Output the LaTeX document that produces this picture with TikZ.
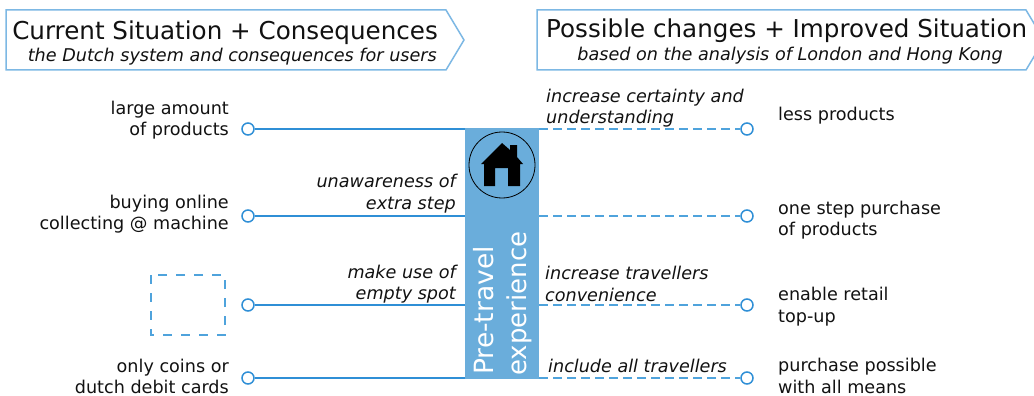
\documentclass[tikz,border=0pt]{standalone}
\usepackage{fontspec}
\setmainfont{DejaVu Sans}
\definecolor{barblue}{HTML}{6AADDB}
\definecolor{lineblue}{HTML}{2F8FD6}
\definecolor{dashblue}{HTML}{4FA3DC}
\definecolor{boxblue}{HTML}{7DB8E4}
\definecolor{txt}{HTML}{111111}
\newcommand{\lab}{\fontsize{17.6}{21.5}\selectfont}
\newcommand{\titlef}{\fontsize{24.6}{28}\selectfont}
\tikzset{
  dot/.style={circle,draw=lineblue,fill=white,line width=1.5pt,minimum size=12pt,inner sep=0pt},
  conn/.style={draw=lineblue,line width=1.2pt},
  dconn/.style={draw=dashblue,line width=1.5pt,dash pattern=on 9pt off 5pt},
  lefttext/.style={anchor=east,align=right,inner sep=0pt,text=txt,font=\lab},
  righttext/.style={anchor=west,align=left,inner sep=0pt,text=txt,font=\lab},
  em/.style={font=\lab\itshape,inner sep=0pt,text=txt},
  heading/.style={draw=boxblue,line width=1.5pt,fill=white},
}
\begin{document}
\begin{tikzpicture}[x=1pt,y=-1pt]
\useasboundingbox (0,0) rectangle (1034,396);
\clip (0,0) rectangle (1034,396);
% heading arrows
\draw[heading] (6,10) -- (446,10) -- (464,40) -- (446,70) -- (6,70) -- cycle;
\draw[heading] (537,10) -- (1026,10) -- (1044,40) -- (1026,70) -- (537,70) -- cycle;
\node[inner sep=0pt,anchor=east,text=txt,font=\titlef] (t1) at (438,33) {Current Situation + Consequences};
\node[inner sep=0pt,anchor=east,em] (s1) at (437,57) {the Dutch system and consequences for users};
\node[inner sep=0pt,anchor=west,text=txt,font=\titlef] (t2) at (546,31) {Possible changes + Improved Situation};
\node[inner sep=0pt,anchor=center,em] (s2) at (790,56) {based on the analysis of London and Hong Kong};
% central bar
\node[fill=barblue,inner sep=0pt,minimum width=74pt,minimum height=251pt] (bar) at (502,253.5) {};
\node[circle,draw=black,line width=0.8pt,minimum size=66pt,inner sep=0pt] (ring) at (502,165) {};
\fill[black] (502,143) -- (510,150) -- (510,145) -- (517,145) -- (517,157) -- (523,164) -- (520,164)
  -- (520,186) -- (508,186) -- (508,168) -- (495,168) -- (495,186) -- (484,186) -- (484,164) -- (481,164) -- cycle;
\node[rotate=90,anchor=west,inner sep=0pt,text=white,font=\fontsize{26.5}{30}\selectfont] (p1) at (484,375) {Pre-travel};
\node[rotate=90,anchor=west,inner sep=0pt,text=white,font=\fontsize{26}{30}\selectfont] (p2) at (519,376) {experience};
% endpoints
\node[dot] (l1) at (248,129) {};
\node[dot] (l2) at (248,216) {};
\node[dot] (l3) at (248,305) {};
\node[dot] (l4) at (248,378) {};
\node[dot] (r1) at (747,129) {};
\node[dot] (r2) at (747,216) {};
\node[dot] (r3) at (747,305) {};
\node[dot] (r4) at (747,378) {};
% connectors
\foreach \i in {1,2,3,4}{
  \draw[conn] (l\i) -- (bar.west |- l\i);
  \draw[dconn] (bar.east |- r\i) -- (r\i);
}
% dashed square
\draw[dconn,dash pattern=on 9pt off 9pt] (151,275) rectangle (225,335);
% left labels
\node[lefttext] (a1) at (229,120) {large amount\\of products};
\node[lefttext] (a2) at (229,214) {buying online\\collecting @ machine};
\node[lefttext] (a4) at (229,376.5) {only coins or\\dutch debit cards};
% right labels
\node[righttext] (b1) at (778,116) {less products};
\node[righttext] (b2) at (778,220) {one step purchase\\of products};
\node[righttext] (b3) at (778,306.5) {enable retail\\top-up};
\node[righttext] (b4) at (778,376) {purchase possible\\with all means};
% italic connector labels
\node[em,anchor=east,align=right] (c2) at (456,193.5) {unawareness of\\extra step};
\node[em,anchor=east,align=right] (c3) at (456,284) {make use of\\empty spot};
\node[em,anchor=west,align=left] (d1) at (546,108) {increase certainty and\\understanding};
\node[em,anchor=west,align=left] (d3) at (545,284) {increase travellers\\convenience};
\node[em,anchor=west] (d4) at (548,366) {include all travellers};
\end{tikzpicture}
\end{document}
